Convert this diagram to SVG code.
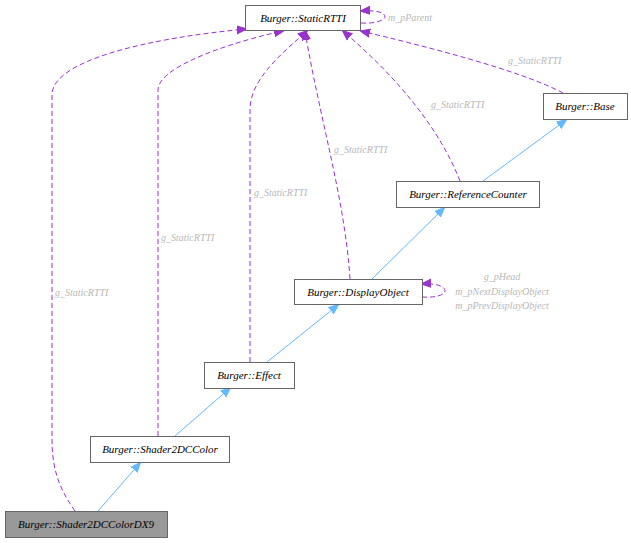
<svg xmlns="http://www.w3.org/2000/svg" width="631" height="543" viewBox="0 0 631 543">
<style>
.n rect{fill:#fff;stroke:#666;stroke-width:1}
.n text{font-family:"Liberation Serif",serif;font-style:italic;font-size:11px;text-anchor:middle;fill:#000}
.b{fill:none;stroke:#63b8ff;stroke-width:1}
.p{fill:none;stroke:#9a32cd;stroke-width:1;stroke-dasharray:5,3}
.l{font-family:"Liberation Serif",serif;font-style:italic;font-size:10px;fill:#b8b8b8}
</style>
<defs>
<marker id="ab" markerWidth="10" markerHeight="10" refX="9" refY="5" orient="auto" markerUnits="userSpaceOnUse"><path d="M0,1 L10,5 L0,9 Z" fill="#63b8ff" stroke="#63b8ff"/></marker>
<marker id="ap" markerWidth="10" markerHeight="10" refX="9" refY="5" orient="auto" markerUnits="userSpaceOnUse"><path d="M0,1 L10,5 L0,9 Z" fill="#9a32cd" stroke="#9a32cd"/></marker>
</defs>
<g id="edges">
<path class="b" d="M98,511 L140,463" marker-end="url(#ab)"/>
<path class="b" d="M175,436 L230,388" marker-end="url(#ab)"/>
<path class="b" d="M267,362 L338,305" marker-end="url(#ab)"/>
<path class="b" d="M372,279 L444,208" marker-end="url(#ab)"/>
<path class="b" d="M483,181 L566,120" marker-end="url(#ab)"/>
<path class="p" d="M75,511 C60,490 52,470 52,440 L52,95 C52,60 150,38 246,29" marker-end="url(#ap)"/>
<path class="p" d="M158,436 L158,90 C158,65 240,40 283,31" marker-end="url(#ap)"/>
<path class="p" d="M250,362 L250,110 C250,80 280,55 307,31" marker-end="url(#ap)"/>
<path class="p" d="M350,279 C345,200 320,120 305,31" marker-end="url(#ap)"/>
<path class="p" d="M460,181 C440,130 400,80 343,31" marker-end="url(#ap)"/>
<path class="p" d="M563,93 C520,70 420,45 361,31" marker-end="url(#ap)"/>
<path class="p" d="M361,23 C375,24 385,20 385,17 C385,12 375,10 361,11" marker-end="url(#ap)"/>
<path class="p" d="M422,297 C435,298 445,295 445,291 C445,286 435,283 422,284" marker-end="url(#ap)"/>
</g>
<text class="l" x="55" y="296">g_StaticRTTI</text>
<text class="l" x="161" y="241">g_StaticRTTI</text>
<text class="l" x="254" y="196">g_StaticRTTI</text>
<text class="l" x="334" y="153">g_StaticRTTI</text>
<text class="l" x="431" y="108">g_StaticRTTI</text>
<text class="l" x="508" y="64">g_StaticRTTI</text>
<text class="l" x="388" y="21">m_pParent</text>
<text class="l" x="502" y="280" text-anchor="middle">g_pHead</text>
<text class="l" x="502" y="295" text-anchor="middle">m_pNextDisplayObject</text>
<text class="l" x="502" y="309" text-anchor="middle">m_pPrevDisplayObject</text>
<g id="StaticRTTI" class="n"><rect x="245.5" y="5.5" width="115" height="25"/><text x="303" y="22">Burger::StaticRTTI</text></g>
<g id="Base" class="n"><rect x="543.5" y="93.5" width="84" height="26"/><text x="585" y="110">Burger::Base</text></g>
<g id="ReferenceCounter" class="n"><rect x="396.5" y="181.5" width="143" height="26"/><text x="468" y="198">Burger::ReferenceCounter</text></g>
<g id="DisplayObject" class="n"><rect x="294.5" y="279.5" width="128" height="25"/><text x="358" y="296">Burger::DisplayObject</text></g>
<g id="Effect" class="n"><rect x="204.5" y="362.5" width="90" height="26"/><text x="249" y="379">Burger::Effect</text></g>
<g id="Shader2DCColor" class="n"><rect x="90.5" y="436.5" width="139" height="26"/><text x="160" y="453">Burger::Shader2DCColor</text></g>
<g id="Shader2DCColorDX9" class="n"><rect x="5.5" y="511.5" width="162" height="26" style="fill:#999"/><text x="86" y="528">Burger::Shader2DCColorDX9</text></g>
</svg>
